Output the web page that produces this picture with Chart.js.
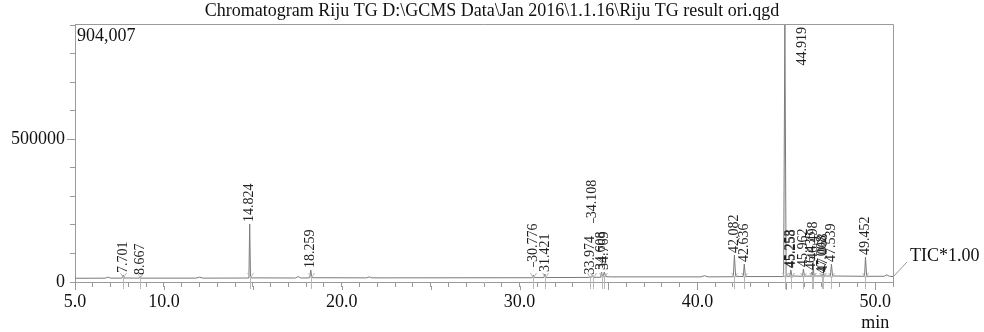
<!DOCTYPE html>
<html>
<head>
<meta charset="utf-8">
<script src="https://cdn.jsdelivr.net/npm/chart.js@4.4.0/dist/chart.umd.min.js"></script>
<style>
  html, body { margin: 0; padding: 0; background: #fff; }
  #wrap { width: 984px; height: 332px; }
</style>
</head>
<body>
<div id="wrap"><canvas id="chromChart"></canvas></div>
<script>
const chartTitle = 'Chromatogram Riju TG D:\\GCMS Data\\Jan 2016\\1.1.16\\Riju TG result ori.qgd';
const fullScale = 904007;
const xTickValues = [5, 6, 7, 8, 9, 10, 11, 12, 13, 14, 15, 16, 17, 18, 19, 20, 21, 22, 23, 24, 25, 26, 27, 28,
  29, 30, 31, 32, 33, 34, 35, 36, 37, 38, 39, 40, 41, 42, 43, 44, 45, 46, 47, 48, 49, 50, 51];
const xLabelValues = [5, 10, 20, 30, 40, 50];
const yTickValues = [0, 100000, 200000, 300000, 400000, 500000, 600000, 700000, 800000, 900000];
const yLabelValues = [0, 500000];

// TIC trace: [retention time (min), intensity]
const trace = [
  [5.00, 13000], [6.70, 13500], [6.85, 17000], [7.00, 13500],
  [7.65, 13500], [7.701, 24500], [7.76, 14000],
  [8.62, 13500], [8.667, 17500], [8.72, 13500],
  [11.80, 13500], [12.00, 17000], [12.20, 13500],
  [14.78, 14000], [14.824, 203000], [14.87, 14500],
  [17.40, 14000], [17.55, 19000], [17.70, 14000],
  [18.20, 14500], [18.259, 42000], [18.32, 15000],
  [21.40, 14500], [21.55, 18000], [21.70, 14500],
  [30.72, 15000], [30.776, 24500], [30.82, 15500],
  [31.37, 15500], [31.421, 28000], [31.47, 15500],
  [33.92, 16000], [33.974, 19000], [34.04, 16500], [34.108, 24000], [34.17, 16500],
  [34.56, 16500], [34.608, 35000], [34.68, 18000], [34.769, 35000], [34.84, 19000],
  [35.10, 18000], [40.20, 18000], [40.40, 22000], [40.60, 18000],
  [42.02, 18500], [42.082, 94600], [42.15, 20000],
  [42.58, 19000], [42.636, 63000], [42.70, 19000],
  [44.85, 19000], [44.919, 904007], [44.99, 20000],
  [45.20, 20000], [45.253, 42000], [45.258, 42000], [45.32, 21000],
  [45.91, 20000], [45.962, 45500], [46.02, 20500],
  [46.40, 20500], [46.435, 35000], [46.47, 25000], [46.498, 70000], [46.56, 21000],
  [46.95, 21000], [47.008, 22000], [47.04, 21000], [47.068, 28000], [47.12, 21000],
  [47.48, 21000], [47.539, 63000], [47.60, 21000],
  [49.40, 20000], [49.452, 87600], [49.52, 20000],
  [50.50, 20000], [50.65, 25000], [50.80, 20000], [51.00, 19000]
];

const peakTimes = [7.701, 8.667, 14.824, 18.259, 30.776, 31.421, 33.974, 34.108, 34.608, 34.769,
  42.082, 42.636, 44.919, 45.253, 45.258, 45.962, 46.435, 46.498, 47.008, 47.068, 47.539, 49.452];
const peakHeights = [24500, 17500, 203000, 42000, 24500, 28000, 19000, 24000, 35000, 35000,
  94600, 63000, 904007, 42000, 42000, 45500, 35000, 70000, 22000, 28000, 63000, 87600];
const peakLabels = ['7.701', '8.667', '14.824', '18.259', '30.776', '31.421', '33.974', '34.108', '34.608', '34.769',
  '42.082', '42.636', '44.919', '45.253', '45.258', '45.962', '46.435', '46.498', '47.008', '47.068', '47.539', '49.452'];

const serif = '"Liberation Serif", "DejaVu Serif", serif';
const axisGray = '#9a9a9a';

const chromDecor = {
  id: 'chromDecor',
  afterDraw(chart, args, opts) {
    const { ctx, chartArea: area } = chart;
    const xs = chart.scales.x, ys = chart.scales.y;
    ctx.save();

    // frame top/right
    ctx.strokeStyle = axisGray;
    ctx.lineWidth = 1;
    ctx.beginPath();
    ctx.moveTo(area.left, area.top + 0.5);
    ctx.lineTo(area.right + 0.5, area.top + 0.5);
    ctx.lineTo(area.right + 0.5, area.bottom);
    ctx.stroke();

    // longer major ticks
    ctx.beginPath();
    for (let v = 5; v <= 50; v += 5) {
      const px = Math.round(xs.getPixelForValue(v)) + 0.5;
      ctx.moveTo(px, area.bottom + 4);
      ctx.lineTo(px, area.bottom + 8);
    }
    const p5 = Math.round(ys.getPixelForValue(500000)) + 0.5;
    ctx.moveTo(area.left - 4, p5);
    ctx.lineTo(area.left - 8, p5);
    ctx.stroke();

    // peak markers
    ctx.strokeStyle = '#b8b8b8';
    ctx.beginPath();
    peakTimes.forEach(t => {
      const px = Math.round(xs.getPixelForValue(t)) + 0.5;
      ctx.moveTo(px, area.bottom - 6);
      ctx.lineTo(px, area.bottom + 7);
      ctx.moveTo(px - 3, area.bottom - 9);
      ctx.lineTo(px, area.bottom - 4);
      ctx.lineTo(px + 3, area.bottom - 9);
    });
    ctx.stroke();

    // peak labels
    ctx.fillStyle = '#222';
    ctx.strokeStyle = '#555';
    ctx.font = '14px ' + serif;
    ctx.textAlign = 'left';
    ctx.textBaseline = 'middle';
    peakLabels.forEach((txt, i) => {
      const px = xs.getPixelForValue(peakTimes[i]);
      const py = ys.getPixelForValue(peakHeights[i]);
      const w = ctx.measureText(txt).width;
      const lift = opts.lift[txt] || 0;
      let bx = px, by = py - 2 - lift;
      if (by - w < area.top) { bx = px + 17; by = area.top + 3 + w; }
      ctx.save();
      ctx.translate(bx, by);
      ctx.rotate(-Math.PI / 2);
      ctx.fillText(txt, 0, 0);
      ctx.restore();
      if (lift) {
        ctx.beginPath();
        ctx.moveTo(Math.round(px) + 0.5, by);
        ctx.lineTo(Math.round(px) + 0.5, by + 5);
        ctx.stroke();
      }
    });

    // texts
    ctx.fillStyle = '#111';
    ctx.font = '18px ' + serif;
    ctx.textAlign = 'center';
    ctx.fillText(chartTitle, chart.width / 2, 11);
    ctx.textAlign = 'left';
    ctx.fillText('904,007', area.left + 2, area.top + 12);
    ctx.textAlign = 'center';
    ctx.fillText('min', xs.getPixelForValue(50), 323);
    ctx.textAlign = 'left';
    ctx.fillText('TIC*1.00', 910, 256);

    ctx.strokeStyle = axisGray;
    ctx.beginPath();
    ctx.moveTo(area.right + 1, area.bottom - 6);
    ctx.lineTo(907, 262);
    ctx.stroke();

    ctx.restore();
  }
};

new Chart(document.getElementById('chromChart'), {
  type: 'line',
  data: {
    datasets: [{
      data: trace.map(p => ({ x: p[0], y: p[1] })),
      borderColor: '#7a7a7a',
      borderWidth: 1,
      pointRadius: 0,
      tension: 0
    }]
  },
  options: {
    responsive: true,
    maintainAspectRatio: false,
    animation: false,
    layout: { padding: { left: 0, right: 91, top: 24, bottom: 0 } },
    plugins: {
      legend: { display: false },
      tooltip: { enabled: false },
      chromDecor: { lift: { '30.776': 11, '34.108': 55 } }
    },
    scales: {
      x: {
        type: 'linear',
        min: 5,
        max: 51,
        afterFit: s => { s.height = 50; },
        afterBuildTicks: s => { s.ticks = xTickValues.map(v => ({ value: v })); },
        grid: { drawOnChartArea: false, drawTicks: true, tickLength: 5, color: axisGray },
        border: { display: true, color: axisGray },
        ticks: {
          autoSkip: false,
          maxRotation: 0,
          padding: 4,
          color: '#111',
          font: { family: serif, size: 18 },
          callback: v => xLabelValues.includes(v) ? v.toFixed(1) : ''
        }
      },
      y: {
        min: 0,
        max: fullScale,
        afterFit: s => { s.width = 75; },
        afterBuildTicks: s => { s.ticks = yTickValues.map(v => ({ value: v })); },
        grid: { drawOnChartArea: false, drawTicks: true, tickLength: 5, color: axisGray },
        border: { display: true, color: axisGray },
        ticks: {
          autoSkip: false,
          padding: 5,
          color: '#111',
          font: { family: serif, size: 18 },
          callback: v => yLabelValues.includes(v) ? String(v) : ''
        }
      }
    }
  },
  plugins: [chromDecor]
});
</script>
</body>
</html>
